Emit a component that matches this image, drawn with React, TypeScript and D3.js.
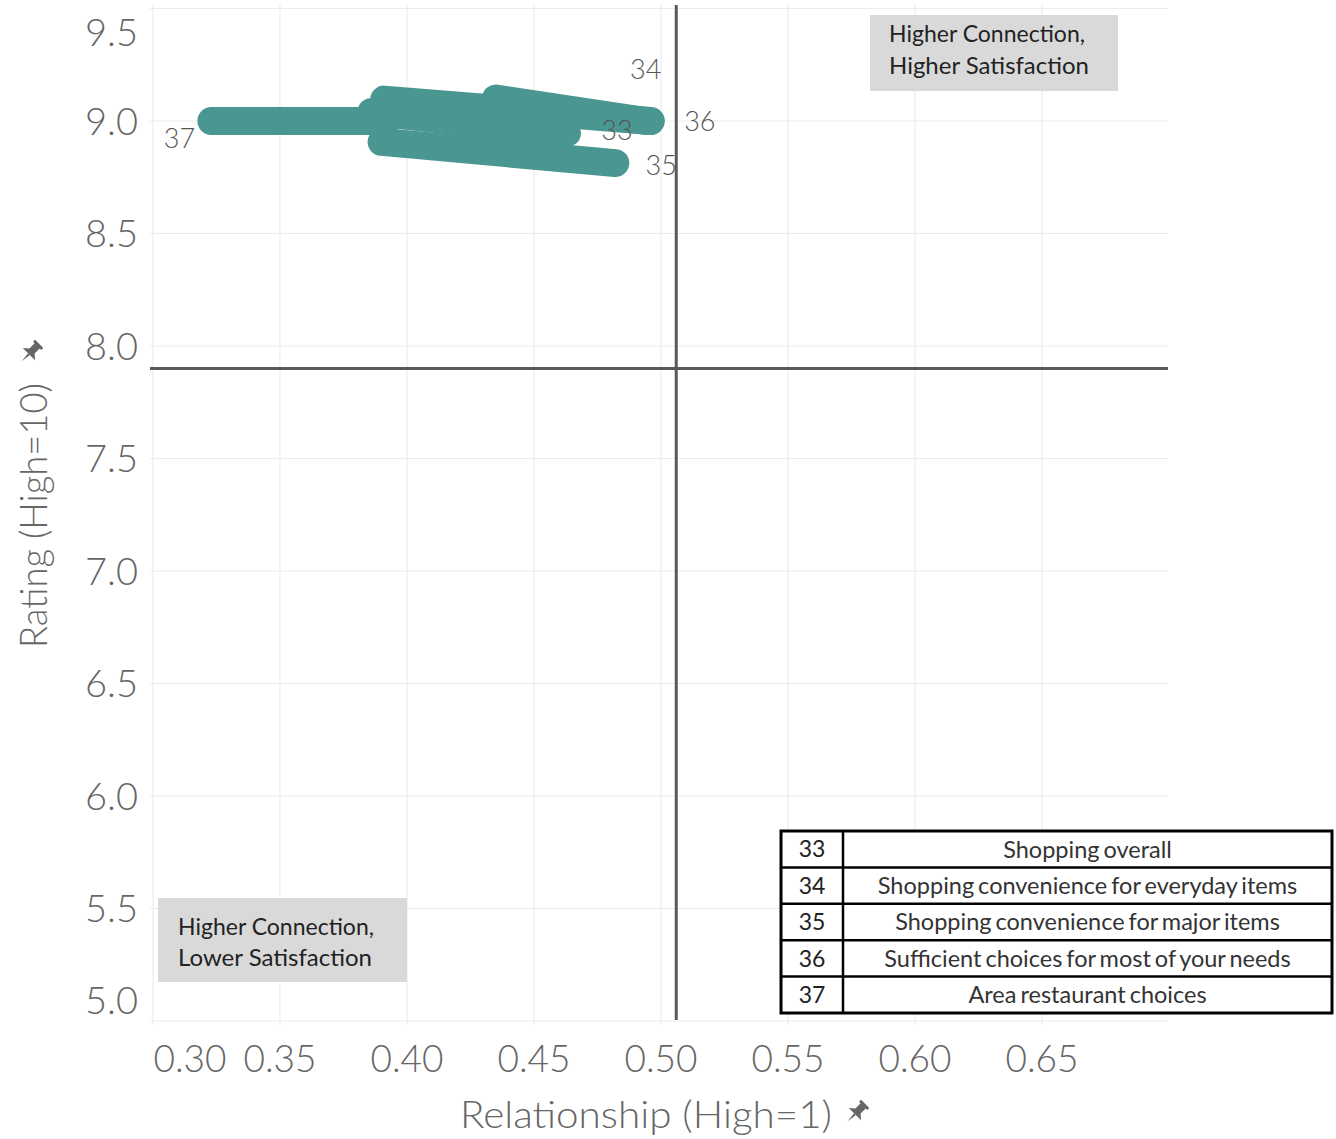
import React from "react";
import * as d3 from "d3";

const ids = ["33", "34", "35", "36", "37"];
const descriptions = [
  "Shopping overall",
  "Shopping convenience for everyday items",
  "Shopping convenience for major items",
  "Sufficient choices for most of your needs",
  "Area restaurant choices",
];
const startRelationship = [0.386, 0.435, 0.390, 0.391, 0.392];
const startRating = [9.04, 9.10, 8.907, 9.095, 9.0];
const endRelationship = [0.463, 0.494, 0.482, 0.496, 0.323];
const endRating = [8.947, 9.0, 8.813, 9.0, 9.0];
// label offsets (px) relative to end point
const labelDx = [50, 0, 46, 49, -32];
const labelDy = [-3, -52, 2, 0, 17];

const xTicks = [0.3, 0.35, 0.4, 0.45, 0.5, 0.55, 0.6, 0.65];
const yTicks = [5.0, 5.5, 6.0, 6.5, 7.0, 7.5, 8.0, 8.5, 9.0, 9.5];
const xCut = 0.506;
const yCut = 7.9;

const TEAL = "#4a9691";
const GRID = "#ececec";
const AXIS_TEXT = "#666";

function Pin({ x, y, rot }: { x: number; y: number; rot: number }) {
  return (
    <g transform={`translate(${x},${y}) rotate(${rot}) scale(1.45)`} fill="#666">
      <path d="M-4,-8 h8 v2 h-1.5 v5 l3.5,3 h-12 l3.5,-3 v-5 h-1.5 z" />
      <path d="M-0.9,2 h1.8 l-0.9,7 z" />
    </g>
  );
}

export default function App() {
  const W = 1336;
  const H = 1139;
  const x = d3.scaleLinear().domain([0.3, 0.7]).range([153, 1169]);
  const y = d3.scaleLinear().domain([5.0, 9.5]).range([1021, 8.5]);
  const plotLeft = 150;
  const plotRight = 1168;
  const plotTop = 4;
  const plotBottom = 1025;

  const lineGen = d3
    .line<[number, number]>()
    .x((d) => x(d[0]))
    .y((d) => y(d[1]));

  const tableX0 = 781;
  const tableX1 = 1332;
  const tableColX = 843;
  const tableY0 = 831;
  const rowH = 36.4;

  return (
    <svg
      width={W}
      height={H}
      style={{ position: "absolute", left: 0, top: 0, background: "#fff" }}
      fontFamily="Lato, 'Open Sans', sans-serif"
    >
      <rect x={0} y={0} width={W} height={H} fill="#fff" />
      {/* grid */}
      {xTicks.map((t) => (
        <line key={"gx" + t} x1={x(t)} x2={x(t)} y1={plotTop} y2={plotBottom} stroke={GRID} strokeWidth={1.2} />
      ))}
      {yTicks.map((t) => (
        <line key={"gy" + t} x1={plotLeft} x2={plotRight} y1={y(t)} y2={y(t)} stroke={GRID} strokeWidth={1.2} />
      ))}

      {/* tick labels */}
      {xTicks.map((t) => (
        <text
          key={"tx" + t}
          x={Math.max(x(t), 190)}
          y={1072}
          textAnchor="middle"
          fontSize={37}
          fontWeight={300}
          fill={AXIS_TEXT}
        >
          {d3.format(".2f")(t)}
        </text>
      ))}
      {yTicks.map((t) => (
        <text
          key={"ty" + t}
          x={138}
          y={Math.min(Math.max(y(t), 32), 1000)}
          dy="0.36em"
          textAnchor="end"
          fontSize={38}
          fontWeight={300}
          fill={AXIS_TEXT}
        >
          {d3.format(".1f")(t)}
        </text>
      ))}

      {/* axis titles */}
      <text
        x={460}
        y={1128}
        fontSize={38}
        fontWeight={300}
        fill={AXIS_TEXT}
        textLength={372}
        lengthAdjust="spacingAndGlyphs"
      >
        Relationship (High=1)
      </text>
      <Pin x={857} y={1112} rot={45} />
      <text
        transform={`translate(47,648) rotate(-90)`}
        fontSize={38}
        fontWeight={300}
        fill={AXIS_TEXT}
        textLength={265}
        lengthAdjust="spacingAndGlyphs"
      >
        Rating (High=10)
      </text>
      <Pin x={31} y={352} rot={45} />

      {/* data lines */}
      {ids.map((id, i) => (
        <path
          key={"l" + id}
          d={lineGen([
            [startRelationship[i], startRating[i]],
            [endRelationship[i], endRating[i]],
          ]) || ""}
          stroke={TEAL}
          strokeWidth={28}
          strokeLinecap="round"
          fill="none"
        />
      ))}

      {/* data labels */}
      {ids.map((id, i) => (
        <text
          key={"t" + id}
          x={x(endRelationship[i]) + labelDx[i]}
          y={y(endRating[i]) + labelDy[i]}
          dy="0.36em"
          textAnchor="middle"
          fontSize={27}
          fontWeight={300}
          fill="#555"
        >
          {id}
        </text>
      ))}

      {/* quadrant lines */}
      <line x1={plotLeft} x2={plotRight} y1={y(yCut)} y2={y(yCut)} stroke="#595959" strokeWidth={3} />
      <line x1={x(xCut)} x2={x(xCut)} y1={5} y2={1020} stroke="#595959" strokeWidth={3} />

      {/* annotation boxes */}
      <rect x={870} y={15} width={248} height={76} fill="#d9d9d9" />
      <text x={889} y={42} fontSize={22.5} fill="#222" textLength={196} lengthAdjust="spacingAndGlyphs">Higher Connection,</text>
      <text x={889} y={74} fontSize={22.5} fill="#222" textLength={200} lengthAdjust="spacingAndGlyphs">Higher Satisfaction</text>
      <rect x={158} y={898} width={249} height={84} fill="#d9d9d9" />
      <text x={178} y={935} fontSize={22.5} fill="#222" textLength={196} lengthAdjust="spacingAndGlyphs">Higher Connection,</text>
      <text x={178} y={966} fontSize={22.5} fill="#222" textLength={194} lengthAdjust="spacingAndGlyphs">Lower Satisfaction</text>

      {/* table */}
      <rect x={tableX0} y={tableY0} width={tableX1 - tableX0} height={rowH * ids.length} fill="#fff" stroke="#000" strokeWidth={3} />
      <line x1={tableColX} x2={tableColX} y1={tableY0} y2={tableY0 + rowH * ids.length} stroke="#000" strokeWidth={2.5} />
      {ids.slice(1).map((id, i) => (
        <line key={"tr" + id} x1={tableX0} x2={tableX1} y1={tableY0 + rowH * (i + 1)} y2={tableY0 + rowH * (i + 1)} stroke="#000" strokeWidth={2.5} />
      ))}
      {ids.map((id, i) => (
        <g key={"row" + id}>
          <text x={(tableX0 + tableColX) / 2} y={tableY0 + rowH * (i + 0.5)} dy="0.36em" textAnchor="middle" fontSize={23} fill="#222">
            {id}
          </text>
          <text x={(tableColX + tableX1) / 2} y={tableY0 + rowH * (i + 0.5)} dy="0.36em" textAnchor="middle" fontSize={23.5} wordSpacing={-2} fill="#333">
            {descriptions[i]}
          </text>
        </g>
      ))}
    </svg>
  );
}
